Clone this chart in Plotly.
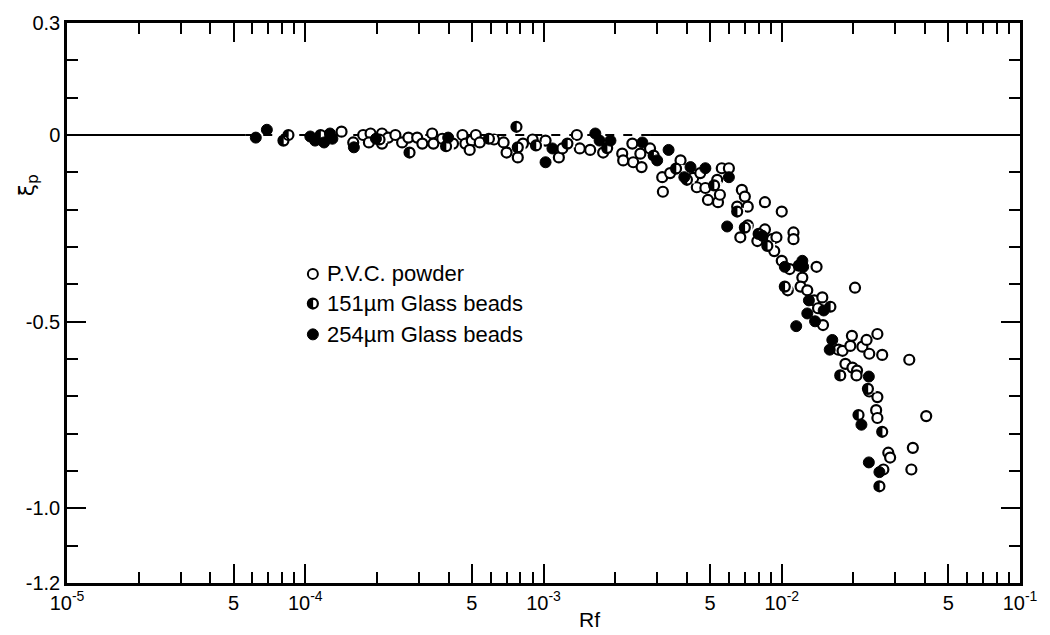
import plotly.graph_objects as go

# ---- data: Rf (log scale) and xi_p for the three particle types ----
pvc_rf = [1.42e-4, 1.59e-4, 1.75e-4, 1.88e-4, 1.85e-4, 2.1e-4, 2.1e-4, 2.23e-4, 2.39e-4, 2.55e-4,
          2.71e-4, 2.95e-4, 3.1e-4, 3.41e-4, 3.45e-4, 3.76e-4, 4.17e-4, 4.57e-4, 4.7e-4, 5.0e-4,
          4.9e-4, 5.2e-4, 5.4e-4,
          6.2e-4, 6.8e-4, 7.0e-4, 7.8e-4, 8.2e-4, 9.0e-4, 1.02e-3, 1.16e-3, 1.2e-3, 1.38e-3,
          1.42e-3, 1.57e-3, 1.78e-3, 2.14e-3, 2.16e-3, 2.36e-3, 2.38e-3, 2.55e-3, 2.58e-3, 2.8e-3,
          3.17e-3, 3.15e-3, 3.4e-3, 3.76e-3, 4.25e-3, 4.4e-3,
          4.55e-3, 4.78e-3, 4.9e-3, 5.36e-3, 5.4e-3, 5.5e-3, 5.6e-3, 6.0e-3, 6.8e-3, 7.0e-3,
          6.5e-3, 7.2e-3, 8.5e-3, 1.0e-2, 6.7e-3, 7.2e-3, 7.9e-3, 8.5e-3, 9.1e-3, 9.5e-3,
          9.3e-3, 1.0e-2, 1.08e-2, 1.12e-2, 1.12e-2, 1.06e-2, 1.22e-2, 1.2e-2, 1.28e-2, 1.4e-2,
          1.37e-2,
          1.48e-2, 1.42e-2, 1.49e-2, 2.03e-2, 1.73e-2, 1.8e-2, 1.94e-2, 1.97e-2, 2.18e-2, 2.27e-2,
          2.33e-2, 2.52e-2, 2.64e-2, 3.43e-2, 1.85e-2, 1.98e-2, 2.07e-2, 2.06e-2, 2.33e-2, 2.52e-2,
          2.49e-2, 2.52e-2, 4.04e-2, 2.8e-2, 2.85e-2, 3.55e-2, 2.67e-2, 3.5e-2]
pvc_xi = [0.009, -0.02, 0.0, 0.004, -0.02, 0.004, -0.023, -0.007, 0.0, -0.02,
          -0.007, -0.007, -0.023, 0.004, -0.023, -0.01, -0.023, 0.0, -0.023, -0.015,
          -0.04, 0.0, -0.02,
          -0.012, -0.02, -0.047, -0.06, -0.023, -0.012, -0.015, -0.06, -0.036, 0.0,
          -0.036, -0.04, -0.047, -0.05, -0.068, -0.023, -0.073, -0.05, -0.086, -0.036,
          -0.152, -0.113, -0.102, -0.068, -0.115, -0.14,
          -0.102, -0.142, -0.174, -0.12, -0.18, -0.16, -0.089, -0.089, -0.147, -0.165,
          -0.192, -0.192, -0.18, -0.205, -0.274, -0.242, -0.284, -0.253, -0.279, -0.274,
          -0.311, -0.337, -0.359, -0.261, -0.279, -0.416, -0.382, -0.406, -0.416, -0.353,
          -0.443,
          -0.435, -0.464, -0.509, -0.409, -0.575, -0.578, -0.565, -0.538, -0.567, -0.549,
          -0.586, -0.533, -0.589, -0.602, -0.613, -0.623, -0.631, -0.644, -0.687, -0.702,
          -0.737, -0.758, -0.753, -0.851, -0.864, -0.838, -0.896, -0.896]

gb151_rf = [8.1e-5, 8.5e-5, 1.16e-4, 2.05e-4, 2.74e-4, 3.9e-4, 5.9e-4, 7.7e-4, 7.8e-4, 9.3e-4,
            1.26e-3, 1.85e-3, 2.9e-3, 3.6e-3, 4.0e-3, 5.2e-3, 6.5e-3, 7.0e-3, 8.0e-3, 8.7e-3,
            1.03e-2, 1.18e-2, 1.6e-2, 1.76e-2, 2.1e-2, 2.3e-2, 2.64e-2, 2.57e-2]
gb151_xi = [-0.015, 0.0, 0.0, -0.012, -0.047, -0.03, -0.01, 0.022, -0.033, -0.028,
            -0.023, -0.035, -0.055, -0.09, -0.12, -0.135, -0.205, -0.248, -0.265, -0.297,
            -0.406, -0.35, -0.46, -0.644, -0.75, -0.68, -0.795, -0.941]

gb254_rf = [6.2e-5, 6.9e-5, 1.05e-4, 1.1e-4, 1.2e-4, 1.27e-4, 1.3e-4, 1.98e-4, 1.6e-4, 3.98e-4,
            1.02e-3, 1.09e-3, 1.65e-3, 1.72e-3, 1.91e-3, 2.6e-3, 3.0e-3, 3.35e-3, 3.9e-3, 4.14e-3,
            4.78e-3, 6.0e-3, 5.9e-3, 8.3e-3, 1.03e-2, 1.22e-2, 1.23e-2, 1.28e-2, 1.38e-2, 1.15e-2,
            1.3e-2, 1.5e-2, 1.63e-2, 1.59e-2, 2.32e-2, 2.16e-2, 2.32e-2, 2.57e-2]
gb254_xi = [-0.007, 0.014, -0.004, -0.015, -0.02, 0.004, -0.01, -0.01, -0.033, -0.007,
            -0.073, -0.036, 0.004, -0.015, -0.015, -0.02, -0.068, -0.04, -0.113, -0.086,
            -0.089, -0.113, -0.245, -0.27, -0.353, -0.337, -0.353, -0.478, -0.499, -0.512,
            -0.443, -0.47, -0.549, -0.575, -0.647, -0.776, -0.877, -0.903]

# zero reference line: solid ends, dashed through the data cloud
zero_left_rf = [1e-5, 5.6e-5]
zero_mid_rf = [5.6e-5, 2.8e-3]
zero_right_rf = [2.8e-3, 1e-1]
zero_xi = [0.0, 0.0]

# tick labels
x_major = [1e-5, 5e-5, 1e-4, 5e-4, 1e-3, 5e-3, 1e-2, 5e-2, 1e-1]
x_major_text = ["10<sup>-5</sup>", "5", "10<sup>-4</sup>", "5", "10<sup>-3</sup>", "5",
                "10<sup>-2</sup>", "5", "10<sup>-1</sup>"]
x_minor = [m * 10.0 ** e for e in (-5, -4, -3, -2) for m in (2, 3, 4, 6, 7, 8, 9)]
y_major = [0.3, 0.0, -0.5, -1.0, -1.2]
y_major_text = ["0.3", "0", "-0.5", "-1.0", "-1.2"]

legend_labels = ["P.V.C. powder", "151µm Glass beads", "254µm Glass beads"]

INK = "#000000"
FONT = "Liberation Sans"

# plot-area geometry (pixels) used for the key and the half-disc mask offset
PLOT_W, PLOT_H = 953, 567
DECADE_PX = PLOT_W / 4.0
MASK_SHIFT_PX = 4.0
SHIFT_DEC = MASK_SHIFT_PX / DECADE_PX

RING = dict(symbol="circle-open", size=10, color=INK, line=dict(color=INK, width=2.2))
DISC = dict(symbol="circle", size=10, color=INK, line=dict(color=INK, width=0))
MASK = dict(symbol="square", size=7.5, color="white", line=dict(width=0))
SOLID = dict(symbol="circle", size=11, color=INK, line=dict(color=INK, width=1))

fig = go.Figure()

for rf, dash in ((zero_left_rf, "solid"), (zero_mid_rf, "dash"), (zero_right_rf, "solid")):
    fig.add_trace(go.Scatter(x=rf, y=zero_xi, mode="lines",
                             line=dict(color=INK, width=2, dash=dash),
                             hoverinfo="skip"))

# P.V.C. powder: open circles
fig.add_trace(go.Scatter(x=pvc_rf, y=pvc_xi, mode="markers", name="P.V.C. powder",
                         marker=dict(symbol="circle", size=10, color="white",
                                     line=dict(color=INK, width=2.2))))

# 151 um beads: left-half-filled circles (disc, right half masked, ring on top)
fig.add_trace(go.Scatter(x=gb151_rf, y=gb151_xi, mode="markers", marker=DISC,
                         hoverinfo="skip"))
fig.add_trace(go.Scatter(x=gb151_rf, y=gb151_xi, mode="markers", marker=MASK,
                         xaxis="x2", hoverinfo="skip"))
fig.add_trace(go.Scatter(x=gb151_rf, y=gb151_xi, mode="markers", marker=RING,
                         xaxis="x4", name="151µm Glass beads"))

# 254 um beads: filled circles
fig.add_trace(go.Scatter(x=gb254_rf, y=gb254_xi, mode="markers", marker=SOLID,
                         xaxis="x4", name="254µm Glass beads"))

# key: symbols on a unit overlay axis, labels as annotations
key_x = 0.258
key_y = [0.552, 0.499, 0.444]
fig.add_trace(go.Scatter(x=[key_x], y=[key_y[0]], mode="markers", xaxis="x3", yaxis="y3",
                         marker=dict(symbol="circle", size=10, color="white",
                                     line=dict(color=INK, width=2)), hoverinfo="skip"))
fig.add_trace(go.Scatter(x=[key_x], y=[key_y[1]], mode="markers", xaxis="x3", yaxis="y3",
                         marker=DISC, hoverinfo="skip"))
fig.add_trace(go.Scatter(x=[key_x + MASK_SHIFT_PX / PLOT_W], y=[key_y[1]], mode="markers",
                         xaxis="x3", yaxis="y3", marker=MASK, hoverinfo="skip"))
fig.add_trace(go.Scatter(x=[key_x], y=[key_y[1]], mode="markers", xaxis="x3", yaxis="y3",
                         marker=RING, hoverinfo="skip"))
fig.add_trace(go.Scatter(x=[key_x], y=[key_y[2]], mode="markers", xaxis="x3", yaxis="y3",
                         marker=SOLID, hoverinfo="skip"))

for yk, lab in zip(key_y, legend_labels):
    fig.add_annotation(text=lab, xref="paper", yref="paper",
                       x=key_x + 12 / PLOT_W, y=yk, xanchor="left", yanchor="middle",
                       showarrow=False, font=dict(family=FONT, size=22, color=INK))

fig.add_annotation(text="Rf", xref="paper", yref="paper", x=0.548, y=-0.065,
                   xanchor="center", yanchor="middle", showarrow=False,
                   font=dict(family=FONT, size=21, color=INK))
fig.add_annotation(text="ξ<sub>p</sub>", xref="paper", yref="paper", x=-0.041, y=0.71,
                   xanchor="center", yanchor="middle", textangle=-90, showarrow=False,
                   font=dict(family="DejaVu Sans", size=22, color=INK))

hidden_log = dict(type="log", overlaying="x", anchor="y", visible=False,
                  showgrid=False, zeroline=False)

fig.update_layout(
    width=1050, height=635, paper_bgcolor="white", plot_bgcolor="white",
    margin=dict(l=67, r=30, t=16, b=52), showlegend=False,
    xaxis=dict(type="log", range=[-5, -1], showline=True, linecolor=INK, linewidth=2.5,
               mirror="ticks", ticks="inside", ticklen=19, tickwidth=2, tickcolor=INK,
               tickmode="array", tickvals=x_major, ticktext=x_major_text,
               minor=dict(tickmode="array", tickvals=x_minor, ticks="inside",
                          ticklen=11, tickwidth=2, tickcolor=INK, showgrid=False),
               showgrid=False, zeroline=False,
               tickfont=dict(family=FONT, size=20, color=INK)),
    yaxis=dict(range=[-1.2, 0.3], showline=True, linecolor=INK, linewidth=2.5,
               mirror="ticks", ticks="inside", ticklen=19, tickwidth=2, tickcolor=INK,
               tickmode="array", tickvals=y_major, ticktext=y_major_text,
               minor=dict(dtick=0.1, tick0=0, ticks="inside", ticklen=11,
                          tickwidth=2, tickcolor=INK, showgrid=False),
               showgrid=False, zeroline=False,
               tickfont=dict(family=FONT, size=20, color=INK)),
    xaxis2=dict(hidden_log, range=[-5 - SHIFT_DEC, -1 - SHIFT_DEC]),
    xaxis3=dict(range=[0, 1], overlaying="x", anchor="y3", visible=False,
                showgrid=False, zeroline=False),
    yaxis3=dict(range=[0, 1], overlaying="y", anchor="x3", visible=False,
                showgrid=False, zeroline=False),
    xaxis4=dict(hidden_log, range=[-5, -1]),
)

fig.write_html("out.html")
